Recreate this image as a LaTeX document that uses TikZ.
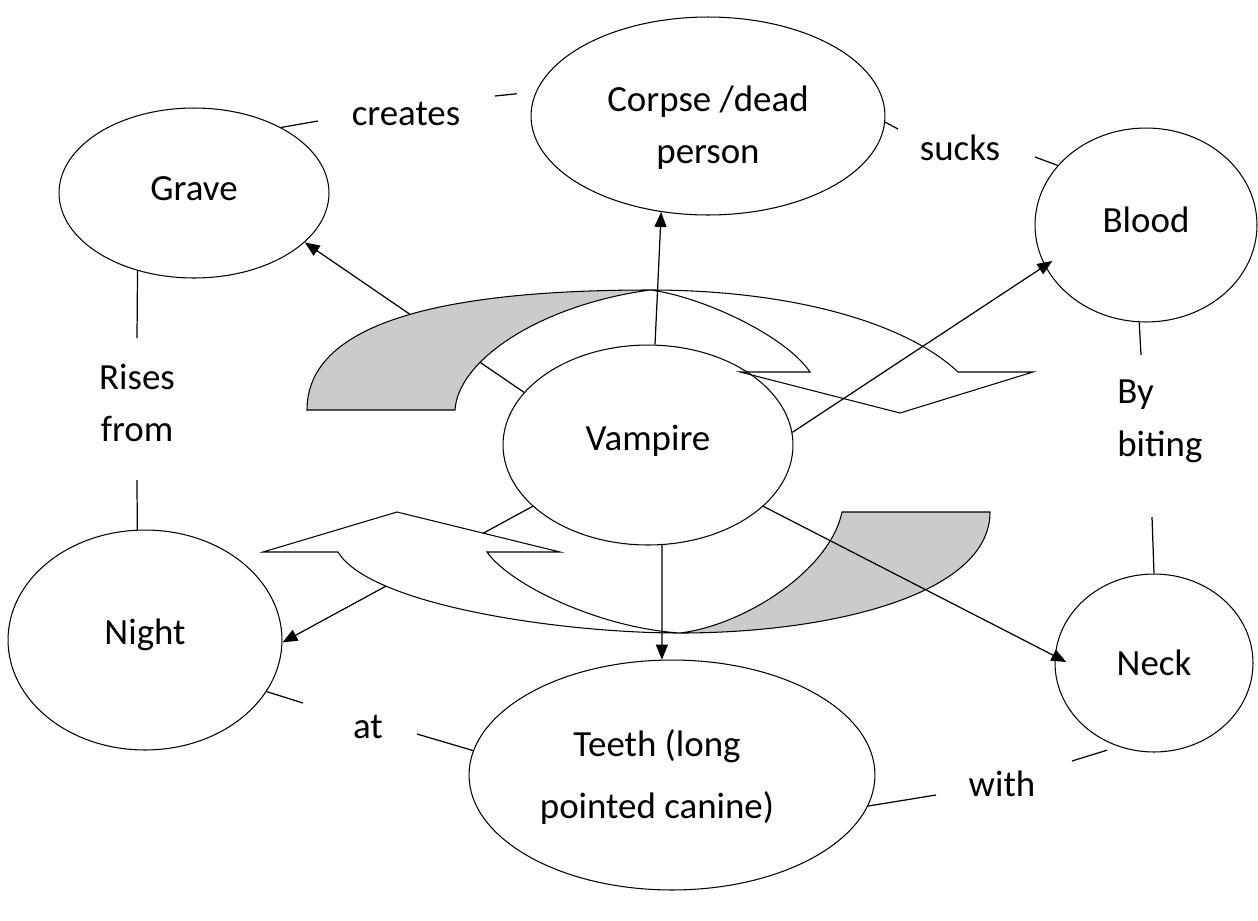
\documentclass[tikz,border=0pt]{standalone}
\usepackage{fontspec}
\setmainfont{Carlito}
\usetikzlibrary{arrows.meta,shapes.geometric,backgrounds}
\definecolor{bandgrey}{HTML}{CBCBCB}
\begin{document}
\begin{tikzpicture}[x=0.02cm,y=-0.02cm,
  ell/.style={draw=black, line width=0.6pt, ellipse, inner sep=0pt, align=center,
    font=\fontsize{21}{30}\selectfont},
  lbl/.style={inner sep=0pt, align=center, font=\fontsize{21}{30}\selectfont},
  arr/.style={line width=0.7pt, -{Triangle[length=0.3cm,width=0.24cm]}},
  con/.style={line width=0.7pt},
  greyband/.style={draw=black, line width=0.6pt, fill=bandgrey, line join=miter},
  whiteband/.style={draw=black, line width=0.6pt, fill=white, line join=miter}
]
\useasboundingbox (0,0) rectangle (1258,920);

% ---- circular arrows ----
% upper: grey tail
\path[greyband] (307,410) .. controls (307,330) and (420,290) .. (650,290)
  .. controls (540,305) and (458,360) .. (455,410) -- cycle;
% upper: white part with head
\path[whiteband] (650,290) .. controls (790,290) and (905,322) .. (958,372)
  -- (1033,372) -- (900,413) -- (740,372) -- (810,372)
  .. controls (785,335) and (700,296) .. (650,290) -- cycle;
% lower: grey tail
\path[greyband] (680,633) .. controls (745,625) and (830,570) .. (842,512)
  -- (990,512) .. controls (990,595) and (830,633) .. (680,633) -- cycle;
% lower: white part with head
\path[whiteband] (397,512) -- (560,552) -- (487,552)
  .. controls (510,585) and (600,628) .. (680,633)
  .. controls (560,633) and (370,605) .. (338,552)
  -- (263,552) -- cycle;

% ---- nodes ----
\node[ell, minimum width=5.4cm, minimum height=3.4cm] (grave) at (194,193) {Grave\rule[-0.16cm]{0pt}{0pt}};
\node[ell, minimum width=7.08cm, minimum height=3.96cm] (corpse) at (708,116) {\rule{0pt}{0.98cm}Corpse /dead\\person};
\node[ell, minimum width=4.44cm, minimum height=3.88cm] (blood) at (1146,225) {Blood\rule[-0.2cm]{0pt}{0pt}};
\node[ell, minimum width=5.8cm, minimum height=4.0cm] (vamp) at (648,445) {Vampire\rule[-0.3cm]{0pt}{0pt}};
\node[ell, minimum width=5.48cm, minimum height=4.4cm] (night) at (145,640) {Night\rule[-0.34cm]{0pt}{0pt}};
\node[ell, minimum width=8.12cm, minimum height=4.6cm, font=\fontsize{21}{35}\selectfont] (teeth) at (672,775) {\begin{tabular}{@{}c@{}}Teeth (long\\pointed canine)\end{tabular}\hspace*{0.6cm}};
\node[ell, minimum width=3.96cm, minimum height=3.56cm] (neck) at (1154,663) {Neck};

\node[lbl] (creates) at (406,114) {creates};
\node[lbl] (sucks) at (960,148) {sucks};
\node[lbl] (rises) at (137,403) {Rises\\from};
\node[lbl, align=left, anchor=west] (biting) at (1117,421) {By\\biting};
\node[lbl] (at) at (368,727) {at};
\node[lbl] (with) at (1002,784) {with};

% ---- arrows behind the circular arrows ----
\begin{scope}[on background layer]
\draw[arr] (vamp.157.2) -- (grave.-24.5);
\draw[arr] (vamp.208.2) -- (night.-1);
\end{scope}

% ---- arrows on top ----
\draw[arr] (vamp.86) -- (corpse.244.7);
\draw[arr, shorten >=-0.18cm] (vamp.5) -- (blood.202.1);
\draw[arr, shorten >=-0.26cm] (vamp.-28.2) -- (neck.176);
\draw[arr] (vamp.-82) -- (teeth.95);

% ---- labelled connectors ----
\coordinate (cr1) at (318,121);
\coordinate (cr2) at (495,96);
\draw[con] (grave.37.5) -- (cr1);
\draw[con, shorten >=0.38cm] (cr2) -- (corpse.172);

\coordinate (su1) at (898,129);
\coordinate (su2) at (1035,157);
\draw[con] (corpse.-2) -- (su1);
\draw[con] (su2) -- (blood.146);

\coordinate (ri1) at (137,338);
\coordinate (ri2) at (137,480);
\draw[con] (grave.234) -- (ri1);
\draw[con] (ri2) -- (night.94);

\coordinate (bi1) at (1141,355);
\coordinate (bi2) at (1152,517);
\draw[con] (blood.266) -- (bi1);
\draw[con] (bi2) -- (neck.90);

\coordinate (at1) at (303,703);
\coordinate (at2) at (417,734);
\draw[con] (night.-23.8) -- (at1);
\draw[con] (at2) -- (teeth.173);

\coordinate (wi1) at (936,795);
\coordinate (wi2) at (1072,761);
\draw[con] (teeth.-9.4) -- (wi1);
\draw[con, shorten >=0.24cm] (wi2) -- (neck.247);
\end{tikzpicture}
\end{document}
